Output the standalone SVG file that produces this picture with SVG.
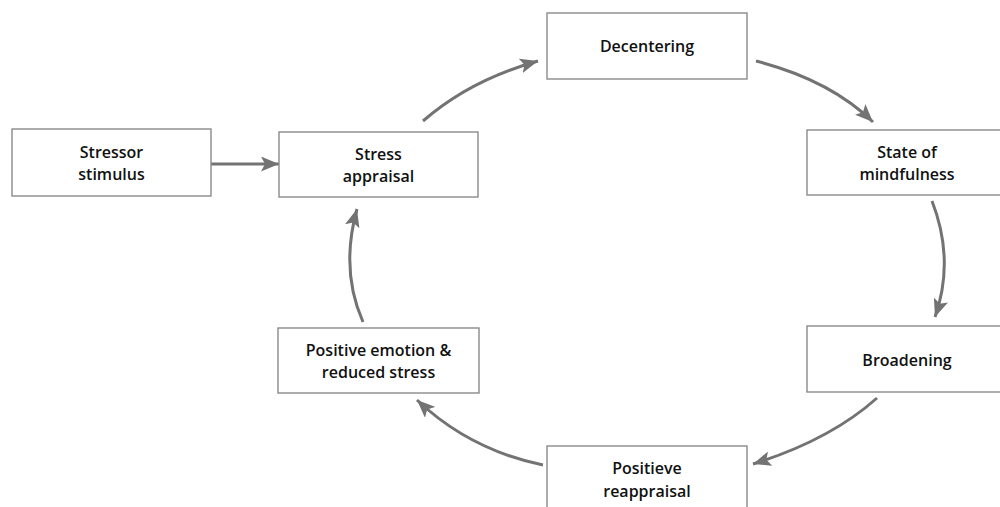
<svg xmlns="http://www.w3.org/2000/svg" width="1000" height="507" viewBox="0 0 1000 507">
<style>
.box{fill:#fff;stroke:#8a8a8a;stroke-width:1.4}
.t{font-family:"Open Sans","Liberation Sans",sans-serif;font-weight:600;font-size:16px;fill:#111;text-anchor:middle}
.c{fill:none;stroke:#737373;stroke-width:3;marker-end:url(#ah)}
</style>
<defs>
<marker id="ah" markerUnits="userSpaceOnUse" markerWidth="19" markerHeight="15" refX="18" refY="7.5" orient="auto">
<path d="M0,0 L18,7.5 L0,15 L4,7.5 z" fill="#737373"/>
</marker>
</defs>
<rect width="1000" height="507" fill="#fff"/>
<g id="connectors">
<path class="c" d="M211,164 L279,164"/>
<path class="c" d="M423,121 Q470,80 538,61"/>
<path class="c" d="M756,61 Q830,80 873,122"/>
<path class="c" d="M932,201 Q955,260 935,317"/>
<path class="c" d="M877,398 Q830,440 753,464"/>
<path class="c" d="M543,465 Q470,450 417,400"/>
<path class="c" d="M363,322 Q340,270 357,209"/>
</g>
<g id="stressor">
<rect class="box" x="12" y="129" width="199" height="67"/>
<text class="t" x="111.5" y="158">Stressor</text>
<text class="t" x="111.5" y="180">stimulus</text>
</g>
<g id="stress-appraisal">
<rect class="box" x="279" y="132" width="199" height="65"/>
<text class="t" x="378.5" y="160">Stress</text>
<text class="t" x="378.5" y="182">appraisal</text>
</g>
<g id="decentering">
<rect class="box" x="547" y="13" width="200" height="66"/>
<text class="t" x="647" y="52">Decentering</text>
</g>
<g id="state">
<rect class="box" x="807" y="130" width="200" height="65"/>
<text class="t" x="907" y="158">State of</text>
<text class="t" x="907" y="180">mindfulness</text>
</g>
<g id="broadening">
<rect class="box" x="807" y="326" width="200" height="66"/>
<text class="t" x="907" y="366">Broadening</text>
</g>
<g id="positieve">
<rect class="box" x="547" y="446" width="200" height="66"/>
<text class="t" x="647" y="474">Positieve</text>
<text class="t" x="647" y="497">reappraisal</text>
</g>
<g id="positive-emotion">
<rect class="box" x="278" y="328" width="201" height="65"/>
<text class="t" x="378.5" y="356">Positive emotion &amp;</text>
<text class="t" x="378.5" y="378">reduced stress</text>
</g>
</svg>
